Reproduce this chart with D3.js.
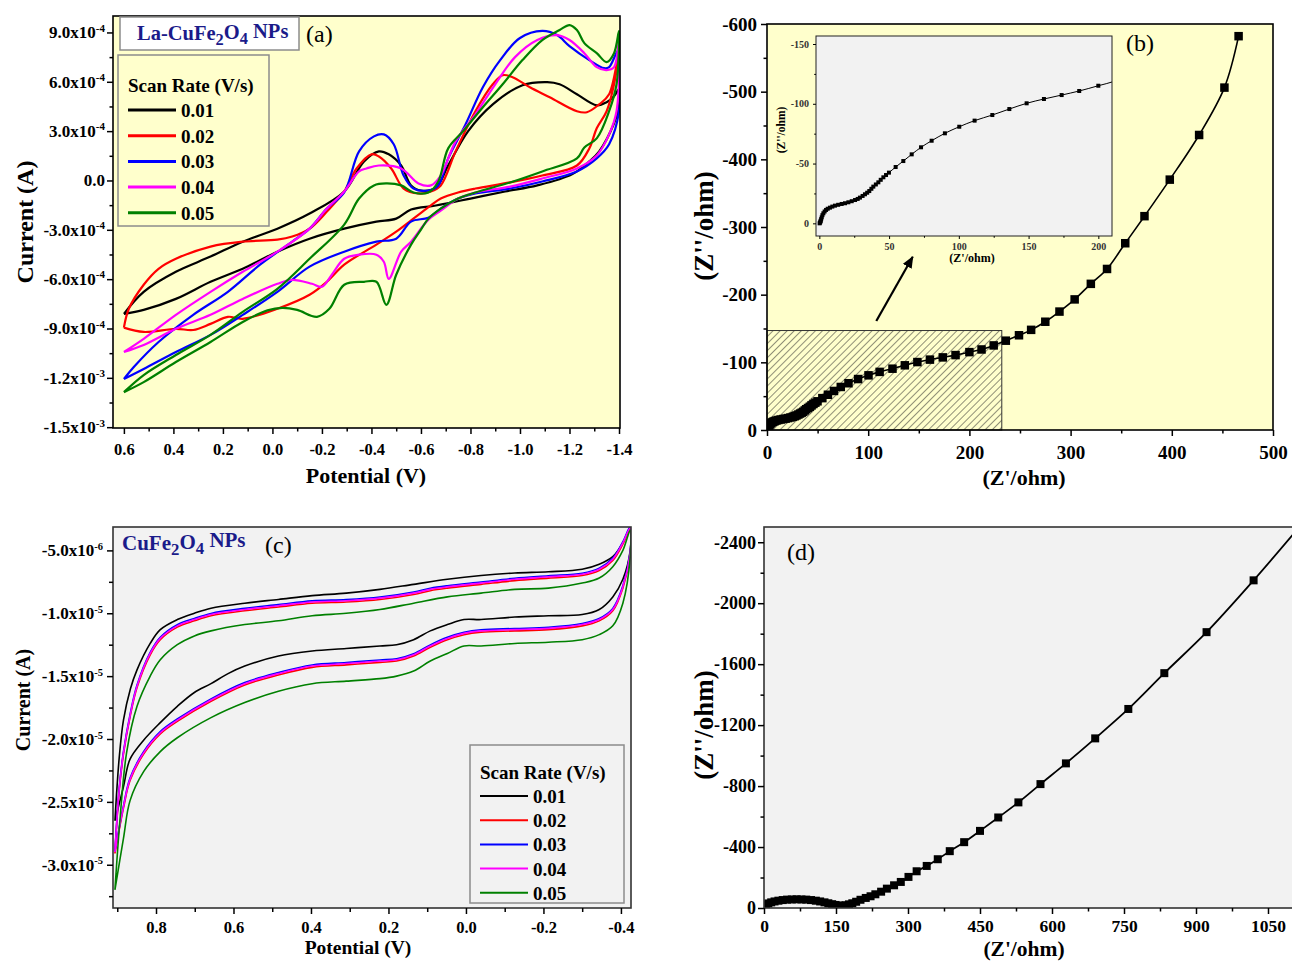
<!DOCTYPE html>
<html>
<head>
<meta charset="utf-8">
<script src="https://cdn.jsdelivr.net/npm/d3@7"></script>
<style>
  body { margin: 0; background: #fff; }
  svg text { font-family: "Liberation Serif", "Times New Roman", serif; }
</style>
</head>
<body>
<div id="wrapper"></div>
<script>
// ---------- data ----------
const scanRates = ["0.01", "0.02", "0.03", "0.04", "0.05"]
const rateColors = ["#000000", "#ff0000", "#0000ff", "#ff00ff", "#008000"]

// (a) La-CuFe2O4 CV loops: [potential (V), current (x1e-4 A)]
const cvLa001 = [[0.60,-8.11],[0.52,-6.77],[0.39,-5.55],[0.25,-4.63],[0.12,-3.72],[-0.02,-2.93],[-0.15,-2.01],[-0.29,-0.67],[-0.37,1.16],[-0.43,1.77],[-0.47,1.59],[-0.52,0.91],[-0.56,-0.30],[-0.60,-0.61],[-0.66,-0.43],[-0.71,0.91],[-0.79,2.99],[-0.89,4.63],[-1.01,5.79],[-1.11,5.98],[-1.16,5.85],[-1.23,5.24],[-1.31,4.57],[-1.35,4.76],[-1.38,5.12],[-1.40,5.55],
  [-1.40,4.51],[-1.38,3.48],[-1.32,1.77],[-1.28,1.16],[-1.21,0.37],[-1.07,-0.30],[-0.94,-0.67],[-0.80,-1.10],[-0.66,-1.52],[-0.56,-1.77],[-0.50,-2.32],[-0.42,-2.50],[-0.29,-2.93],[-0.15,-3.54],[-0.02,-4.33],[0.12,-5.37],[0.25,-6.16],[0.39,-7.20],[0.52,-7.87],[0.60,-8.11]]
const cvLa002 = [[0.60,-8.95],[0.58,-7.80],[0.52,-6.34],[0.46,-5.37],[0.39,-4.76],[0.25,-4.02],[0.12,-3.72],[-0.02,-3.60],[-0.08,-3.41],[-0.15,-2.93],[-0.22,-1.89],[-0.29,-0.67],[-0.34,0.73],[-0.40,1.59],[-0.43,1.46],[-0.48,0.73],[-0.53,-0.49],[-0.59,-0.79],[-0.64,-0.67],[-0.68,-0.30],[-0.74,1.77],[-0.82,4.21],[-0.89,5.85],[-0.93,6.40],[-0.97,6.28],[-1.04,5.67],[-1.12,5.06],[-1.23,4.21],[-1.27,4.15],[-1.32,4.63],[-1.36,5.24],[-1.40,7.87],
  [-1.38,5.85],[-1.35,4.21],[-1.31,3.17],[-1.28,1.95],[-1.23,0.91],[-1.09,0.30],[-0.96,-0.12],[-0.82,-0.49],[-0.75,-0.73],[-0.68,-1.10],[-0.64,-1.52],[-0.58,-2.20],[-0.50,-3.11],[-0.42,-3.90],[-0.29,-5.12],[-0.22,-6.16],[-0.15,-6.95],[-0.02,-7.80],[0.12,-8.41],[0.18,-8.29],[0.25,-8.72],[0.32,-9.09],[0.39,-9.02],[0.52,-9.21],[0.60,-8.95]]
const cvLa003 = [[0.60,-12.07],[0.56,-11.34],[0.46,-9.82],[0.32,-8.17],[0.18,-6.77],[0.05,-5.12],[-0.08,-3.72],[-0.15,-2.93],[-0.22,-1.71],[-0.29,-0.73],[-0.35,1.77],[-0.41,2.68],[-0.45,2.80],[-0.49,2.20],[-0.53,0.30],[-0.57,-0.49],[-0.63,-0.61],[-0.67,-0.30],[-0.71,1.34],[-0.78,3.41],[-0.85,5.67],[-0.92,7.32],[-1.00,8.66],[-1.09,9.09],[-1.15,8.84],[-1.20,8.17],[-1.28,7.32],[-1.34,6.83],[-1.36,6.89],[-1.40,7.99],
  [-1.40,4.21],[-1.36,2.20],[-1.31,1.34],[-1.23,0.55],[-1.09,-0.06],[-0.96,-0.49],[-0.82,-0.79],[-0.75,-1.10],[-0.68,-1.71],[-0.63,-2.26],[-0.56,-2.50],[-0.50,-3.54],[-0.42,-3.72],[-0.29,-4.33],[-0.15,-5.24],[-0.02,-6.77],[0.12,-8.17],[0.25,-9.39],[0.39,-10.43],[0.52,-11.46],[0.60,-12.07]]
const cvLa004 = [[0.60,-10.43],[0.52,-9.63],[0.39,-8.17],[0.25,-6.77],[0.12,-5.55],[-0.02,-4.33],[-0.15,-2.93],[-0.22,-1.71],[-0.29,-0.67],[-0.35,0.55],[-0.38,0.73],[-0.43,0.91],[-0.52,0.73],[-0.59,-0.18],[-0.64,-0.30],[-0.68,0.30],[-0.74,2.38],[-0.82,4.02],[-0.90,5.85],[-0.98,7.50],[-1.07,8.54],[-1.15,8.84],[-1.20,8.54],[-1.26,7.74],[-1.31,6.89],[-1.35,6.71],[-1.38,6.89],[-1.40,8.48],
  [-1.39,4.21],[-1.36,2.80],[-1.31,1.52],[-1.23,0.73],[-1.09,0.12],[-0.96,-0.37],[-0.82,-0.73],[-0.75,-1.10],[-0.68,-1.83],[-0.63,-2.38],[-0.56,-3.72],[-0.52,-4.33],[-0.47,-5.98],[-0.45,-4.94],[-0.42,-4.51],[-0.35,-4.51],[-0.29,-4.76],[-0.24,-5.73],[-0.20,-6.46],[-0.16,-6.28],[-0.08,-6.04],[-0.02,-6.28],[0.12,-7.20],[0.25,-8.17],[0.39,-9.02],[0.52,-10.00],[0.60,-10.43]]
const cvLa005 = [[0.60,-12.87],[0.52,-11.83],[0.39,-10.61],[0.25,-9.39],[0.12,-7.99],[-0.02,-6.59],[-0.15,-4.76],[-0.29,-2.68],[-0.35,-1.10],[-0.41,-0.30],[-0.46,-0.18],[-0.52,-0.30],[-0.57,-0.73],[-0.63,-0.73],[-0.67,-0.06],[-0.71,1.95],[-0.77,2.99],[-0.85,4.45],[-0.93,5.85],[-1.01,7.32],[-1.09,8.54],[-1.16,9.15],[-1.20,9.45],[-1.23,9.15],[-1.26,8.35],[-1.31,7.74],[-1.35,7.20],[-1.38,7.74],[-1.40,9.09],
  [-1.40,8.35],[-1.39,5.85],[-1.36,4.21],[-1.31,2.56],[-1.26,2.01],[-1.23,1.34],[-1.09,0.55],[-0.96,-0.12],[-0.82,-0.73],[-0.75,-1.10],[-0.68,-1.71],[-0.63,-2.32],[-0.60,-2.99],[-0.56,-3.90],[-0.50,-5.73],[-0.46,-7.56],[-0.42,-6.16],[-0.37,-6.16],[-0.29,-6.34],[-0.23,-7.80],[-0.18,-8.29],[-0.10,-7.87],[-0.04,-7.75],[0.02,-7.90],[0.12,-8.60],[0.25,-9.82],[0.39,-11.04],[0.52,-12.26],[0.60,-12.87]]

// (b) La-CuFe2O4 Nyquist: [Z' (ohm), Z'' (ohm)]
const eisLa = [[0.2,0.0],[0.5,-0.6],[0.8,-1.5],[1.0,-2.2],[1.3,-3.5],[1.7,-5.0],[2.2,-6.8],[2.9,-8.4],[3.8,-9.9],[4.8,-11.2],[6.0,-12.2],[7.6,-13.1],[9.3,-14.0],[11.2,-14.8],[13.5,-15.5],[16.0,-16.2],[18.4,-16.8],[20.8,-17.6],[23.2,-18.5],[25.6,-19.5],[27.5,-20.4],[29.1,-21.5],[31.0,-22.9],[32.7,-24.3],[34.3,-25.6],[35.8,-27.0],[37.3,-28.9],[38.7,-30.7],[40.5,-32.5],[42.3,-34.3],[44.0,-36.4],[45.9,-38.5],[47.8,-40.4],[49.9,-42.4],[54.7,-47.1],[60.2,-52.1],[66.2,-57.7],[72.9,-63.6],[80.5,-69.1],[90.0,-75.3],[100.3,-80.8],[111.3,-85.9],[124.0,-90.6],[136.2,-95.6],[148.6,-100.4],[161.0,-104.0],[173.7,-107.3],[186.3,-110.7],[200.0,-115.1],
  [212,-119],[224,-125],[236,-132],[249,-140],[261,-148],[275,-160],[289,-175],[304,-193],[320,-216],[336,-238],[354,-276],[373,-316],[398,-370],[427,-436],[452,-506],[466,-582]]
const zoomBoxB = [232, -147]            // hatched region shown in the inset
const arrowB = [[108, -161], [144, -256]]

// (c) CuFe2O4 CV loops: [potential (V), current (x1e-6 A)]
const cvCu001 = [[0.906,-26.5],[0.895,-21.5],[0.884,-18.5],[0.866,-16.0],[0.849,-14.5],[0.815,-12.4],[0.789,-11.3],[0.745,-10.5],[0.701,-10.0],[0.658,-9.6],[0.571,-9.2],[0.484,-8.9],[0.397,-8.6],[0.309,-8.4],[0.222,-8.1],[0.135,-7.7],[0.048,-7.3],[-0.039,-7.0],[-0.126,-6.8],[-0.213,-6.7],[-0.300,-6.5],[-0.344,-6.1],[-0.379,-5.5],[-0.405,-4.4],[-0.424,-3.2],
  [-0.424,-5.0],[-0.405,-7.3],[-0.379,-8.7],[-0.344,-9.7],[-0.300,-10.1],[-0.213,-10.2],[-0.126,-10.3],[-0.039,-10.5],[0.005,-10.5],[0.048,-10.9],[0.092,-11.4],[0.135,-12.1],[0.179,-12.5],[0.222,-12.6],[0.309,-12.8],[0.397,-13.0],[0.484,-13.4],[0.571,-14.2],[0.614,-14.8],[0.658,-15.6],[0.701,-16.3],[0.745,-17.4],[0.789,-18.7],[0.832,-20.1],[0.867,-21.6],[0.884,-23.8],[0.906,-26.5]]
// 0.02, 0.03 and 0.04 V/s lie on top of each other
const cvCuMid = [[0.906,-29.0],[0.895,-24.0],[0.884,-21.1],[0.866,-18.0],[0.849,-15.8],[0.815,-13.2],[0.789,-12.0],[0.745,-11.0],[0.701,-10.5],[0.658,-10.1],[0.571,-9.7],[0.484,-9.4],[0.397,-9.1],[0.309,-9.0],[0.222,-8.8],[0.135,-8.4],[0.092,-8.1],[0.048,-7.9],[-0.039,-7.6],[-0.126,-7.3],[-0.213,-7.1],[-0.300,-6.9],[-0.344,-6.5],[-0.379,-5.7],[-0.405,-4.4],[-0.424,-3.2],
  [-0.424,-5.2],[-0.405,-7.9],[-0.379,-9.7],[-0.344,-10.5],[-0.300,-10.9],[-0.213,-11.2],[-0.126,-11.3],[-0.039,-11.4],[0.005,-11.6],[0.048,-12.0],[0.092,-12.6],[0.135,-13.3],[0.179,-13.7],[0.222,-13.8],[0.309,-14.0],[0.397,-14.2],[0.484,-14.8],[0.571,-15.6],[0.658,-16.9],[0.745,-18.5],[0.789,-19.5],[0.832,-21.1],[0.867,-23.2],[0.884,-25.4],[0.906,-29.0]]
const cvCu005 = [[0.906,-32.0],[0.893,-26.4],[0.876,-21.1],[0.849,-17.4],[0.815,-15.0],[0.789,-13.7],[0.745,-12.5],[0.701,-11.8],[0.658,-11.4],[0.571,-10.9],[0.484,-10.6],[0.397,-10.2],[0.309,-10.0],[0.222,-9.7],[0.135,-9.2],[0.048,-8.7],[-0.039,-8.4],[-0.126,-8.1],[-0.213,-8.0],[-0.300,-7.6],[-0.344,-7.2],[-0.379,-6.3],[-0.405,-5.0],[-0.424,-3.4],
  [-0.424,-5.5],[-0.405,-9.2],[-0.379,-11.0],[-0.344,-11.7],[-0.300,-12.1],[-0.213,-12.3],[-0.126,-12.4],[-0.039,-12.6],[0.005,-12.6],[0.048,-13.2],[0.092,-13.8],[0.135,-14.6],[0.179,-15.0],[0.222,-15.2],[0.309,-15.4],[0.397,-15.6],[0.484,-16.2],[0.571,-17.1],[0.658,-18.3],[0.745,-19.9],[0.789,-21.0],[0.832,-22.6],[0.867,-24.9],[0.884,-27.9],[0.906,-32.0]]

// (d) CuFe2O4 Nyquist: [Z' (ohm), Z'' (ohm)]
const eisCu = [[1,-14],[4,-22],[9,-30],[15,-37],[22,-43],[30,-48],[39,-52],[48,-55],[58,-56],[68,-57],[78,-56],[88,-55],[98,-52],[108,-48],[117,-43],[126,-37],[134,-31],[142,-25],[149,-20],[156,-16],[163,-15],[170,-18],[177,-24],[184,-31],[192,-41],[201,-54],[212,-66],[222,-77],[232,-90],[244,-107],[256,-127],[271,-149],[285,-171],[301,-204],[318,-241],[339,-276],[362,-320],[387,-373],[417,-432],[450,-506],[488,-594],[530,-693],[576,-813],[629,-949],[690,-1113],[759,-1306],[834,-1541],[922,-1810],[1020,-2150],[1122,-2525]]

// ticks
const aXTicks = [0.6, 0.4, 0.2, 0, -0.2, -0.4, -0.6, -0.8, -1.0, -1.2, -1.4]
const aXMinor = [0.5, 0.3, 0.1, -0.1, -0.3, -0.5, -0.7, -0.9, -1.1, -1.3]
const aYTicks = [9, 6, 3, 0, -3, -6, -9, -12, -15]
const aYMinor = [7.5, 4.5, 1.5, -1.5, -4.5, -7.5, -10.5, -13.5]
const aYLabels = [["9.0x10","-4"],["6.0x10","-4"],["3.0x10","-4"],["0.0",""],["-3.0x10","-4"],["-6.0x10","-4"],["-9.0x10","-4"],["-1.2x10","-3"],["-1.5x10","-3"]]
const bXTicks = [0, 100, 200, 300, 400, 500], bXMinor = [50, 150, 250, 350, 450]
const bYTicks = [0, -100, -200, -300, -400, -500, -600], bYMinor = [-50, -150, -250, -350, -450, -550]
const insXTicks = [0, 50, 100, 150, 200], insXMinor = [25, 75, 125, 175]
const insYTicks = [0, -50, -100, -150], insYMinor = [-25, -75, -125]
const cXTicks = [0.8, 0.6, 0.4, 0.2, 0, -0.2, -0.4], cXMinor = [0.9, 0.7, 0.5, 0.3, 0.1, -0.1, -0.3]
const cYTicks = [-5, -10, -15, -20, -25, -30], cYMinor = [-7.5, -12.5, -17.5, -22.5, -27.5, -32.5]
const cYLabels = [["-5.0x10","-6"],["-1.0x10","-5"],["-1.5x10","-5"],["-2.0x10","-5"],["-2.5x10","-5"],["-3.0x10","-5"]]
const dXTicks = [0, 150, 300, 450, 600, 750, 900, 1050], dXMinor = [75, 225, 375, 525, 675, 825, 975]
const dYTicks = [0, -400, -800, -1200, -1600, -2000, -2400], dYMinor = [-200, -600, -1000, -1400, -1800, -2200]

// ---------- canvas ----------
const SERIF = '"Liberation Serif", "Times New Roman", serif'
const SANS = '"Liberation Sans", Arial, sans-serif'
const NAVY = "#1b1b8a"

const svg = d3.select("#wrapper").append("svg")
  .attr("width", 1292).attr("height", 961)
const defs = svg.append("defs")

function clip(id, x, y, w, h) {
  defs.append("clipPath").attr("id", id)
    .append("rect").attr("x", x).attr("y", y).attr("width", w).attr("height", h)
  return `url(#${id})`
}

function addAxis(parent, transform, gen, font, size) {
  const a = parent.append("g").attr("transform", transform).call(gen)
  a.attr("font-family", font).attr("font-size", size).attr("font-weight", "bold")
  a.select(".domain").remove()
  a.selectAll(".tick line").attr("stroke", "#000").attr("stroke-width", 1.5)
  a.selectAll(".tick text").attr("fill", "#000")
  return a
}

function sciLabels(axisG, ticks, labels, supSize) {
  axisG.selectAll(".tick text").each(function(d) {
    const lab = labels[ticks.indexOf(d)]
    const t = d3.select(this).text(null)
    t.append("tspan").text(lab[0])
    if (lab[1]) t.append("tspan").attr("dy", "-0.6em").attr("font-size", supSize).text(lab[1])
  })
}

function frame(parent, x, y, w, h, color) {
  parent.append("rect").attr("x", x).attr("y", y).attr("width", w).attr("height", h)
    .attr("fill", "none").attr("stroke", color || "#000").attr("stroke-width", 1.6)
}

function chemName(parent, x, y, prefix, size) {
  const t = parent.append("text").attr("x", x).attr("y", y)
    .attr("font-size", size).attr("font-weight", "bold").attr("fill", NAVY)
  t.append("tspan").text(prefix + "CuFe")
  t.append("tspan").attr("dy", "0.3em").attr("font-size", size * 0.8).text("2")
  t.append("tspan").attr("dy", "-0.3em").text("O")
  t.append("tspan").attr("dy", "0.3em").attr("font-size", size * 0.8).text("4")
  t.append("tspan").attr("dy", "-0.3em").text(" NPs")
}

function label(parent, x, y, txt, size, rotate, weight) {
  parent.append("text")
    .attr("transform", `translate(${x},${y})` + (rotate ? " rotate(-90)" : ""))
    .attr("text-anchor", "middle").attr("font-size", size)
    .attr("font-weight", weight || "bold").text(txt)
}

function legend(parent, x, y, w, h, rowY, stroke) {
  parent.append("rect").attr("x", x).attr("y", y).attr("width", w).attr("height", h)
    .attr("fill", "none").attr("stroke", "#8c8c8c").attr("stroke-width", 1.5)
  parent.append("text").attr("x", x + 10).attr("y", rowY[0])
    .attr("font-size", 19).attr("font-weight", "bold").text("Scan Rate (V/s)")
  scanRates.forEach((r, i) => {
    const yy = rowY[1] + i * rowY[2]
    parent.append("line").attr("x1", x + 10).attr("x2", x + 58).attr("y1", yy).attr("y2", yy)
      .attr("stroke", rateColors[i]).attr("stroke-width", stroke)
    parent.append("text").attr("x", x + 63).attr("y", yy + 7)
      .attr("font-size", 19).attr("font-weight", "bold").text(r)
  })
}

// ---------- (a) ----------
const xA = d3.scaleLinear().domain([0.644, -1.404]).range([113, 620])
const yA = d3.scaleLinear().domain([-15.05, 10.0]).range([428, 16])
const gA = svg.append("g")
gA.append("rect").attr("x", 113).attr("y", 16).attr("width", 507).attr("height", 412).attr("fill", "#ffffcc")

const lineA = d3.line().x(d => xA(d[0])).y(d => yA(d[1])).curve(d3.curveCatmullRom.alpha(0.5))
gA.append("g").attr("clip-path", clip("clipA", 113, 16, 507, 412))
  .selectAll("path").data([cvLa001, cvLa002, cvLa003, cvLa004, cvLa005]).join("path")
  .attr("d", lineA).attr("fill", "none")
  .attr("stroke", (d, i) => rateColors[i]).attr("stroke-width", 2.2)
frame(gA, 113, 16, 507, 412)

addAxis(gA, "translate(0,428)", d3.axisBottom(xA).tickValues(aXTicks).tickSize(6).tickPadding(9).tickFormat(d => d.toFixed(1)), SERIF, 16.5)
addAxis(gA, "translate(0,428)", d3.axisBottom(xA).tickValues(aXMinor).tickSize(3.5).tickFormat(""), SERIF, 16)
const aY = addAxis(gA, "translate(113,0)", d3.axisLeft(yA).tickValues(aYTicks).tickSize(6).tickPadding(2), SERIF, 17)
sciLabels(aY, aYTicks, aYLabels, 11)
addAxis(gA, "translate(113,0)", d3.axisLeft(yA).tickValues(aYMinor).tickSize(3.5).tickFormat(""), SERIF, 16)

gA.append("rect").attr("x", 120).attr("y", 17).attr("width", 179).attr("height", 33)
  .attr("fill", "#ffffff").attr("stroke", "#8c8c8c").attr("stroke-width", 1.5)
chemName(gA, 137, 40, "La-", 20.5)
gA.append("text").attr("x", 306).attr("y", 42).attr("font-size", 24).text("(a)")
legend(gA, 118, 55, 151, 171, [92, 110, 25.7], 3)
label(gA, 33, 222, "Current (A)", 24, true)
label(gA, 366, 483, "Potential (V)", 22)

// ---------- (b) ----------
const xB = d3.scaleLinear().domain([0, 500]).range([767, 1273])
const yB = d3.scaleLinear().domain([0, -600]).range([430, 24])
const gB = svg.append("g")
gB.append("rect").attr("x", 767).attr("y", 24).attr("width", 506).attr("height", 406).attr("fill", "#ffffcc")

const hatch = defs.append("pattern").attr("id", "hatch").attr("patternUnits", "userSpaceOnUse")
  .attr("width", 5).attr("height", 5).attr("patternTransform", "rotate(45)")
hatch.append("line").attr("x1", 0).attr("y1", 0).attr("x2", 0).attr("y2", 5)
  .attr("stroke", "#222").attr("stroke-width", 1)
gB.append("rect").attr("x", xB(0)).attr("y", yB(zoomBoxB[1]))
  .attr("width", xB(zoomBoxB[0]) - xB(0)).attr("height", yB(0) - yB(zoomBoxB[1]))
  .attr("fill", "url(#hatch)").attr("stroke", "#333").attr("stroke-width", 1)

const lineB = d3.line().x(d => xB(d[0])).y(d => yB(d[1])).curve(d3.curveCatmullRom.alpha(0.5))
const dataB = gB.append("g").attr("clip-path", clip("clipB", 767, 24, 506, 406))
dataB.append("path").attr("d", lineB(eisLa)).attr("fill", "none").attr("stroke", "#000").attr("stroke-width", 1.6)
dataB.selectAll("rect").data(eisLa).join("rect")
  .attr("x", d => xB(d[0]) - 4.25).attr("y", d => yB(d[1]) - 4.25)
  .attr("width", 8.5).attr("height", 8.5).attr("fill", "#000")
frame(gB, 767, 24, 506, 406)

addAxis(gB, "translate(0,430)", d3.axisBottom(xB).tickValues(bXTicks).tickSize(6).tickPadding(10).tickFormat(d => String(d)), SANS, 19)
addAxis(gB, "translate(0,430)", d3.axisBottom(xB).tickValues(bXMinor).tickSize(3.5).tickFormat(""), SANS, 19)
addAxis(gB, "translate(767,0)", d3.axisLeft(yB).tickValues(bYTicks).tickSize(6).tickPadding(4).tickFormat(d => String(d)), SANS, 19)
addAxis(gB, "translate(767,0)", d3.axisLeft(yB).tickValues(bYMinor).tickSize(3.5).tickFormat(""), SANS, 19)

// arrow towards the inset
defs.append("marker").attr("id", "arrowHead").attr("markerUnits", "userSpaceOnUse")
  .attr("markerWidth", 12).attr("markerHeight", 10).attr("refX", 11).attr("refY", 5).attr("orient", "auto")
  .append("path").attr("d", "M0,0 L12,5 L0,10 Z").attr("fill", "#000")
gB.append("line")
  .attr("x1", xB(arrowB[0][0])).attr("y1", yB(arrowB[0][1]))
  .attr("x2", xB(arrowB[1][0])).attr("y2", yB(arrowB[1][1]))
  .attr("stroke", "#000").attr("stroke-width", 2.2).attr("marker-end", "url(#arrowHead)")

// inset
const xI = d3.scaleLinear().domain([-2.4, 209.8]).range([816, 1112])
const yI = d3.scaleLinear().domain([10.6, -156.7]).range([236, 36])
const gI = gB.append("g")
gI.append("rect").attr("x", 816).attr("y", 36).attr("width", 296).attr("height", 200).attr("fill", "#f2f2f2")
const lineI = d3.line().x(d => xI(d[0])).y(d => yI(d[1])).curve(d3.curveCatmullRom.alpha(0.5))
const dataI = gI.append("g").attr("clip-path", clip("clipI", 816, 36, 296, 200))
dataI.append("path").attr("d", lineI(eisLa)).attr("fill", "none").attr("stroke", "#000").attr("stroke-width", 1)
dataI.selectAll("rect").data(eisLa).join("rect")
  .attr("x", d => xI(d[0]) - 2).attr("y", d => yI(d[1]) - 2)
  .attr("width", 4).attr("height", 4).attr("fill", "#000")
gI.append("rect").attr("x", 816).attr("y", 36).attr("width", 296).attr("height", 200)
  .attr("fill", "none").attr("stroke", "#222").attr("stroke-width", 1)
const insAxes = [
  addAxis(gI, "translate(0,236)", d3.axisBottom(xI).tickValues(insXTicks).tickSize(3).tickPadding(4).tickFormat(d => String(d)), SANS, 10),
  addAxis(gI, "translate(0,236)", d3.axisBottom(xI).tickValues(insXMinor).tickSize(1.8).tickFormat(""), SANS, 10),
  addAxis(gI, "translate(816,0)", d3.axisLeft(yI).tickValues(insYTicks).tickSize(3).tickPadding(4).tickFormat(d => String(d)), SANS, 10),
  addAxis(gI, "translate(816,0)", d3.axisLeft(yI).tickValues(insYMinor).tickSize(1.8).tickFormat(""), SANS, 10)
]
insAxes.forEach(a => { a.selectAll(".tick line").attr("stroke-width", 1); a.selectAll(".tick text").attr("fill", "#333") })
label(gI, 972, 262, "(Z'/ohm)", 12)
label(gI, 785, 130, "(Z''/ohm)", 11.5, true)

gB.append("text").attr("x", 1126).attr("y", 51).attr("font-size", 24).text("(b)")
label(gB, 713, 226, "(Z''/ohm)", 27, true)
label(gB, 1024, 485, "(Z'/ohm)", 22)

// ---------- (c) ----------
const xC = d3.scaleLinear().domain([0.911, -0.426]).range([113, 631])
const yC = d3.scaleLinear().domain([-33.44, -3.14]).range([908, 527])
const gC = svg.append("g")
gC.append("rect").attr("x", 113).attr("y", 527).attr("width", 518).attr("height", 381).attr("fill", "#f2f2f2")
const lineC = d3.line().x(d => xC(d[0])).y(d => yC(d[1])).curve(d3.curveCatmullRom.alpha(0.5))
const seriesC = [
  { pts: cvCu001, color: rateColors[0], dy: 0 },
  { pts: cvCuMid, color: rateColors[1], dy: 1.3 },
  { pts: cvCuMid, color: rateColors[2], dy: -1.1 },
  { pts: cvCuMid, color: rateColors[3], dy: 0 },
  { pts: cvCu005, color: rateColors[4], dy: 0 }
]
gC.append("g").attr("clip-path", clip("clipC", 113, 527, 518, 381))
  .selectAll("path").data(seriesC).join("path")
  .attr("d", d => lineC(d.pts)).attr("transform", d => `translate(0,${d.dy})`)
  .attr("fill", "none").attr("stroke", d => d.color).attr("stroke-width", 1.6)
frame(gC, 113, 527, 518, 381, "#333")

addAxis(gC, "translate(0,908)", d3.axisBottom(xC).tickValues(cXTicks).tickSize(6).tickPadding(7).tickFormat(d => d.toFixed(1)), SANS, 16.5)
addAxis(gC, "translate(0,908)", d3.axisBottom(xC).tickValues(cXMinor).tickSize(4).tickFormat(""), SANS, 16)
const cY = addAxis(gC, "translate(113,0)", d3.axisLeft(yC).tickValues(cYTicks).tickSize(6).tickPadding(4), SANS, 17)
sciLabels(cY, cYTicks, cYLabels, 10.5)
addAxis(gC, "translate(113,0)", d3.axisLeft(yC).tickValues(cYMinor).tickSize(4).tickFormat(""), SANS, 16)

chemName(gC, 122, 550, "", 21)
gC.append("text").attr("x", 265).attr("y", 553).attr("font-size", 24).text("(c)")
legend(gC, 470, 745, 154, 158, [779, 796, 24.2], 2)
label(gC, 30, 700, "Current (A)", 20, true)
label(gC, 358, 954, "Potential (V)", 19.5)

// ---------- (d) ----------
const xD = d3.scaleLinear().domain([0, 1100]).range([764, 1292])
const yD = d3.scaleLinear().domain([0, -2500]).range([908, 527])
const gD = svg.append("g")
gD.append("rect").attr("x", 764).attr("y", 527).attr("width", 528).attr("height", 381).attr("fill", "#f2f2f2")
const lineD = d3.line().x(d => xD(d[0])).y(d => yD(d[1])).curve(d3.curveCatmullRom.alpha(0.5))
const dataD = gD.append("g").attr("clip-path", clip("clipD", 764, 527, 528, 381))
dataD.append("path").attr("d", lineD(eisCu)).attr("fill", "none").attr("stroke", "#000").attr("stroke-width", 1.8)
dataD.selectAll("rect").data(eisCu).join("rect")
  .attr("x", d => xD(d[0]) - 4).attr("y", d => yD(d[1]) - 4)
  .attr("width", 8).attr("height", 8).attr("fill", "#000")
frame(gD, 764, 527, 540, 381, "#333")

addAxis(gD, "translate(0,908)", d3.axisBottom(xD).tickValues(dXTicks).tickSize(6).tickPadding(6).tickFormat(d => String(d)), SANS, 17.5)
addAxis(gD, "translate(0,908)", d3.axisBottom(xD).tickValues(dXMinor).tickSize(3.5).tickFormat(""), SANS, 17)
addAxis(gD, "translate(764,0)", d3.axisLeft(yD).tickValues(dYTicks).tickSize(6).tickPadding(2).tickFormat(d => String(d)), SANS, 18)
addAxis(gD, "translate(764,0)", d3.axisLeft(yD).tickValues(dYMinor).tickSize(3.5).tickFormat(""), SANS, 17)

gD.append("text").attr("x", 787).attr("y", 560).attr("font-size", 24).text("(d)")
label(gD, 713, 725, "(Z''/ohm)", 27, true)
label(gD, 1024, 956, "(Z'/ohm)", 21.5)
</script>
</body>
</html>
